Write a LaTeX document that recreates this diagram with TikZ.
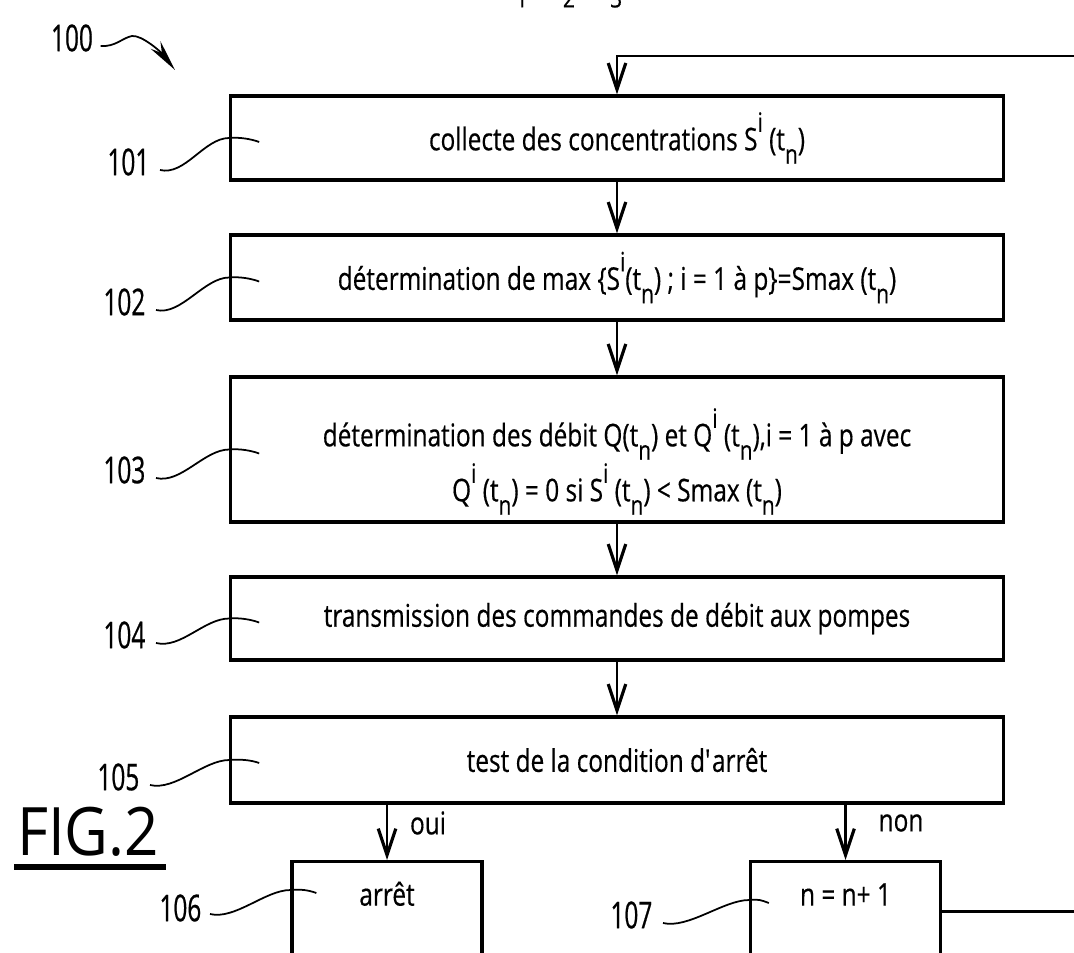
\documentclass[tikz,border=0pt]{standalone}
\usepackage{fontspec}
\setmainfont{Open Sans}[FakeStretch=0.78,FakeBold=0.4]
\newfontfamily\numfont{Open Sans}[FakeStretch=0.66,FakeBold=0.6]
\newfontfamily\figfont{Open Sans}[FakeStretch=0.9]
\usetikzlibrary{arrows.meta}

\newcommand{\tsup}[1]{\raisebox{1.1ex}{\fontsize{7.6}{8}\selectfont #1}}
\newcommand{\tsub}[1]{\raisebox{-0.8ex}{\fontsize{7.6}{8}\selectfont #1}}

\begin{document}
\begin{tikzpicture}[x=0.01cm, y=-0.01cm,
    stepbox/.style={draw, line width=0.9pt, minimum width=7.72cm, align=center,
      inner sep=0pt, font=\fontsize{8.9}{12.5}\selectfont},
    endbox/.style={draw, line width=0.9pt, minimum width=1.9cm, inner sep=0pt,
      anchor=north, text height=0.44cm, text depth=1cm, font=\fontsize{8.9}{12}\selectfont},
    flow/.style={line width=0.7pt, -{Straight Barb[length=7.5pt,width=5pt,line width=0.9pt]}},
    leader/.style={line width=0.5pt},
    refnum/.style={font=\numfont\fontsize{10.5}{12}\selectfont, inner sep=0pt, anchor=east},
    txt/.style={font=\fontsize{8.9}{11}\selectfont, inner sep=0pt}]
    \useasboundingbox (0,0) rectangle (1074,952);
    \clip (0,0) rectangle (1074,952);

    % line cut off at the top of the sheet
    \node[txt, anchor=base] (tops) at (547,-6) {t < t\tsub{1} < t\tsub{2} < t\tsub{3}};

    % steps
    \node[stepbox, minimum height=0.84cm] (b101) at (617,138) {collecte des concentrations S\tsup{i} (t\tsub{n})};
    \node[stepbox, minimum height=0.85cm] (b102) at (617,277.5) {détermination de max \{S\tsup{i}(t\tsub{n}) ; i = 1 à p\}=Smax (t\tsub{n})};
    \node[stepbox, minimum height=1.45cm] (b103) at (617,449.5) {\rule{0pt}{0.62cm}détermination des débit Q(t\tsub{n}) et Q\tsup{i} (t\tsub{n}),i = 1 à p avec\\
      Q\tsup{i} (t\tsub{n}) = 0 si S\tsup{i} (t\tsub{n}) < Smax (t\tsub{n})};
    \node[stepbox, minimum height=0.83cm] (b104) at (617,618.5) {transmission des commandes de débit aux pompes};
    \node[stepbox, minimum height=0.86cm] (b105) at (617,760) {test de la condition d\textquotesingle arrêt};
    \node[endbox] (b106) at (387,860) {arrêt};
    \node[endbox] (b107) at (845.5,860) {n = n+ 1};

    % flow
    \coordinate (ret) at (1110,56);
    \draw[flow] ([yshift=-0.06cm]b107.base east) -| (ret) -| (b101.north);
    \draw[flow] (b101.south) -- (b102.north);
    \draw[flow] (b102.south) -- (b103.north);
    \draw[flow] (b103.south) -- (b104.north);
    \draw[flow] (b104.south) -- (b105.north);
    \draw[flow] (b106.north |- b105.south) -- (b106.north);
    \draw[flow] (b107.north |- b105.south) -- (b107.north);
    \node[txt] (oui) at (428,823) {oui};
    \node[txt] (non) at (901,823) {non};

    % reference numerals
    \node[refnum, anchor=center] (l100) at (72,38) {100};
    \coordinate (a100) at (175,70);
    \draw[leader, -{Stealth[length=9pt,width=3.5pt]}] ([xshift=0.07cm,yshift=-0.08cm]l100.east)
      .. controls +(15,1) and +(-10,2) .. (132,36) .. controls +(10,-1) and +(-14,-18) .. (a100);

    \node[refnum] (l101) at (150,162) {101};
    \node[refnum] (l102) at (146,302) {102};
    \node[refnum] (l103) at (146,470) {103};
    \node[refnum] (l104) at (146,635) {104};
    \node[refnum] (l105) at (140,777) {105};
    \node[refnum] (l106) at (202,908) {106};
    \node[refnum] (l107) at (653,915) {107};

    \draw[leader] ([xshift=0.1cm,yshift=-0.08cm]l101.east) .. controls +(25,6) and +(-25,0) .. (b101.west)
      .. controls +(10,-1) and +(-8,-3) .. ++(30,4);
    \draw[leader] ([xshift=0.1cm,yshift=-0.08cm]l102.east) .. controls +(25,6) and +(-25,0) .. (b102.west)
      .. controls +(10,-1) and +(-8,-3) .. ++(30,4);
    \draw[leader] ([xshift=0.1cm,yshift=-0.08cm]l103.east) .. controls +(25,6) and +(-25,0) .. (b103.west)
      .. controls +(10,-1) and +(-8,-3) .. ++(30,4);
    \draw[leader] ([xshift=0.1cm,yshift=-0.08cm]l104.east) .. controls +(25,6) and +(-25,0) .. (b104.west)
      .. controls +(10,-1) and +(-8,-3) .. ++(30,4);
    \draw[leader] ([xshift=0.1cm,yshift=-0.08cm]l105.east) .. controls +(25,6) and +(-25,0) .. (b105.west)
      .. controls +(10,-1) and +(-8,-3) .. ++(30,3);
    \draw[leader] ([xshift=0.08cm,yshift=-0.06cm]l106.east) .. controls +(25,6) and +(-25,0) .. ([yshift=-0.3cm]b106.north west)
      .. controls +(10,-1) and +(-8,-3) .. ++(26,3);
    \draw[leader] ([xshift=0.1cm,yshift=-0.08cm]l107.east) .. controls +(25,6) and +(-25,0) .. ([yshift=-0.4cm]b107.north west)
      .. controls +(10,-1) and +(-8,-3) .. ++(20,3);

    % figure number
    \node[font=\figfont\fontsize{19}{20}\selectfont, inner sep=0pt, anchor=base] (fig) at (88,855) {FIG.2};
    \draw[line width=1.5pt] ([xshift=-0.02cm,yshift=-0.12cm]fig.base west) -- ([xshift=0.06cm,yshift=-0.12cm]fig.base east);
\end{tikzpicture}
\end{document}
